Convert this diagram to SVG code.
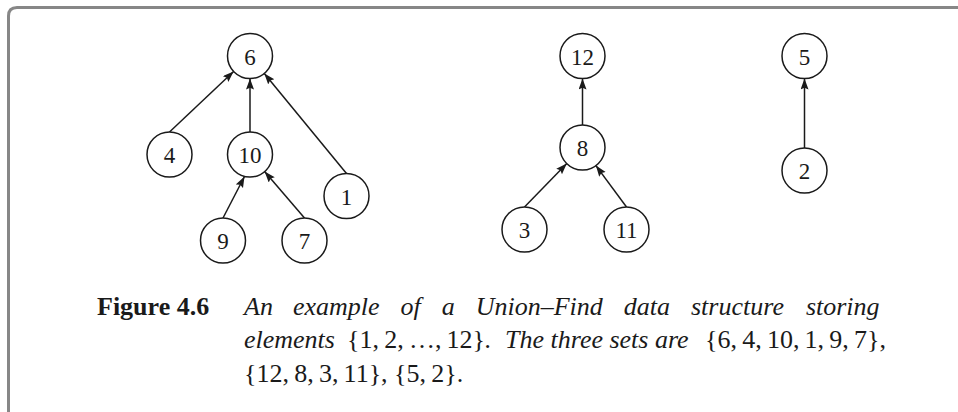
<svg xmlns="http://www.w3.org/2000/svg" width="958" height="412" viewBox="0 0 958 412">
<style>
.frame{fill:none;stroke:#878787;stroke-width:3}
.node circle{fill:#fff;stroke:#1a1a1a;stroke-width:1.5}
.node text{font-family:"Liberation Serif","Times New Roman",serif;font-size:23px;fill:#1a1a1a;text-anchor:middle}
.edges line{stroke:#1a1a1a;stroke-width:1.5;marker-end:url(#arr)}
.cap{font-family:"Liberation Serif","Times New Roman",serif;font-size:26px;fill:#1a1a1a}
.b{font-weight:bold}
.i{font-style:italic}
</style>
<defs>
<marker id="arr" markerUnits="userSpaceOnUse" markerWidth="12" markerHeight="9" refX="11" refY="4" orient="auto">
<path d="M0,0 L11,4 L0,8 L1.8,4 z" fill="#1a1a1a"/>
</marker>
</defs>
<path class="frame" d="M8.5,412 V16 Q8.5,7.5 17,7.5 H958"/>
<g id="connectors" class="edges">
<line x1="169.5" y1="132" x2="233.6" y2="71.5"/>
<line x1="250" y1="132" x2="250" y2="78.5"/>
<line x1="346.5" y1="173.5" x2="264.3" y2="73.4"/>
<line x1="223" y1="218" x2="244.5" y2="176.5"/>
<line x1="304.5" y1="218" x2="264.6" y2="171.6"/>
<line x1="582.5" y1="125" x2="582.5" y2="78.5"/>
<line x1="524.5" y1="207" x2="566.8" y2="163.6"/>
<line x1="626.5" y1="207" x2="595.9" y2="165.6"/>
<line x1="804.5" y1="148" x2="804.5" y2="78.5"/>
</g>
<g id="n6" class="node"><circle cx="250" cy="56" r="22.5"/><text x="250" y="64.5">6</text></g>
<g id="n4" class="node"><circle cx="169.5" cy="154.5" r="22.5"/><text x="169.5" y="163">4</text></g>
<g id="n10" class="node"><circle cx="250" cy="154.5" r="22.5"/><text x="250" y="163">10</text></g>
<g id="n1" class="node"><circle cx="346.5" cy="196" r="22.5"/><text x="346.5" y="204.5">1</text></g>
<g id="n9" class="node"><circle cx="223" cy="240.5" r="22.5"/><text x="223" y="249">9</text></g>
<g id="n7" class="node"><circle cx="304.5" cy="240.5" r="22.5"/><text x="304.5" y="249">7</text></g>
<g id="n12" class="node"><circle cx="582.5" cy="56" r="22.5"/><text x="582.5" y="64.5">12</text></g>
<g id="n8" class="node"><circle cx="582.5" cy="147.5" r="22.5"/><text x="582.5" y="156">8</text></g>
<g id="n3" class="node"><circle cx="524.5" cy="229.5" r="22.5"/><text x="524.5" y="238">3</text></g>
<g id="n11" class="node"><circle cx="626.5" cy="229.5" r="22.5"/><text x="626.5" y="238">11</text></g>
<g id="n5" class="node"><circle cx="804.5" cy="56" r="22.5"/><text x="804.5" y="64.5">5</text></g>
<g id="n2" class="node"><circle cx="804.5" cy="170.5" r="22.5"/><text x="804.5" y="179">2</text></g>
<g id="caption" class="cap">
<text class="b" x="97" y="315">Figure 4.6</text>
<text class="i" y="315"><tspan x="244">An</tspan><tspan x="293">example</tspan><tspan x="400.5">of</tspan><tspan x="441.7">a</tspan><tspan x="475.7">Union–Find</tspan><tspan x="623.8">data</tspan><tspan x="691">structure</tspan><tspan x="805.9">storing</tspan></text>
<text y="348"><tspan class="i" x="244">elements</tspan><tspan x="347">{1,&#8201;2,&#8201;…,&#8201;12}</tspan><tspan class="i" x="485">.</tspan><tspan class="i" x="505">The three sets are</tspan><tspan x="705">{6,&#8201;4,&#8201;10,&#8201;1,&#8201;9,&#8201;7},</tspan></text>
<text x="244" y="382">{12,&#8201;8,&#8201;3,&#8201;11},&#160;{5,&#8201;2}.</text>
</g>
</svg>
